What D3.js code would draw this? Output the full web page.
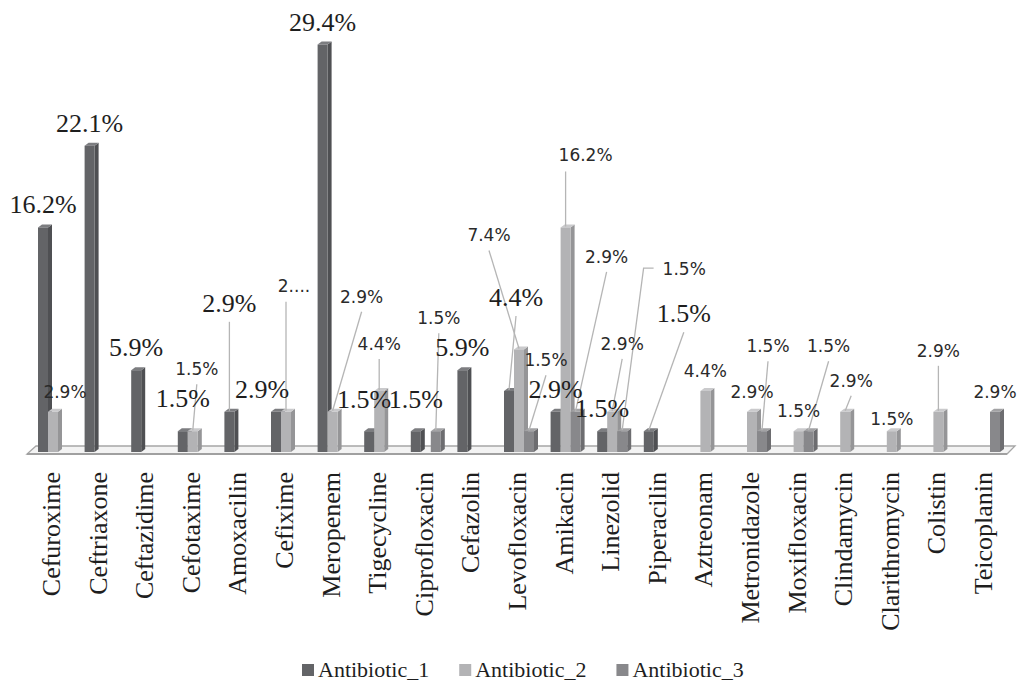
<!DOCTYPE html>
<html>
<head>
<meta charset="utf-8">
<script src="https://cdn.jsdelivr.net/npm/d3@7"></script>
<style>
  body { margin: 0; background: #fff; }
  svg { display: block; }
</style>
</head>
<body>
<div id="chart"></div>
<script>
var width = 1018;
var height = 681;

var categories = ["Cefuroxime", "Ceftriaxone", "Ceftazidime", "Cefotaxime", "Amoxacilin",
  "Cefixime", "Meropenem", "Tigecycline", "Ciprofloxacin", "Cefazolin", "Levofloxacin",
  "Amikacin", "Linezolid", "Piperacilin", "Aztreonam", "Metronidazole", "Moxifloxacin",
  "Clindamycin", "Clarithromycin", "Colistin", "Teicoplanin"];

var seriesNames = ["Antibiotic_1", "Antibiotic_2", "Antibiotic_3"];

var antibiotic1 = [16.2, 22.1, 5.9, 1.5, 2.9, 2.9, 29.4, 1.5, 1.5, 5.9, 4.4,
  2.9, 1.5, 1.5, null, null, null, null, null, null, null];
var antibiotic2 = [2.9, null, null, 1.5, null, 2.9, 2.9, 4.4, null, null, 7.4,
  16.2, 2.9, null, 4.4, 2.9, 1.5, 2.9, 1.5, 2.9, null];
var antibiotic3 = [null, null, null, null, null, null, null, null, 1.5, null, 1.5,
  2.9, 1.5, null, null, 1.5, 1.5, null, null, null, 2.9];

// labels that were dragged away from the bar in the original (pixels, baseline relative to bar top)
var labelMoves = [
  {cat: "Cefotaxime", s: 0, dx: 0, dy: -24},
  {cat: "Amoxacilin", s: 0, dx: 0, dy: -100, leader: "below"},
  {cat: "Cefixime", s: 0, dx: -14, dy: -14},
  {cat: "Tigecycline", s: 0, dx: -5, dy: -23},
  {cat: "Ciprofloxacin", s: 0, dx: 0, dy: -23},
  {cat: "Levofloxacin", s: 0, dx: 7, dy: -85, leader: "below"},
  {cat: "Piperacilin", s: 0, dx: 35, dy: -109, leader: "below"},
  {cat: "Cefuroxime", s: 1, dx: 12, dy: -14},
  {cat: "Cefotaxime", s: 1, dx: 4, dy: -56, leader: "below"},
  {cat: "Cefixime", s: 1, dx: 8, dy: -120, leader: "vertical", text: "2...."},
  {cat: "Meropenem", s: 1, dx: 29, dy: -109, leader: "below"},
  {cat: "Tigecycline", s: 1, dx: 0, dy: -41, leader: "below"},
  {cat: "Ciprofloxacin", s: 2, dx: 3, dy: -107, leader: "below"},
  {cat: "Levofloxacin", s: 1, dx: -30, dy: -108, leader: "below"},
  {cat: "Levofloxacin", s: 2, dx: 17, dy: -65, leader: "below"},
  {cat: "Amikacin", s: 1, dx: 20, dy: -66, leader: "vertical"},
  {cat: "Amikacin", s: 2, dx: 31, dy: -149, leader: "below"},
  {cat: "Linezolid", s: 1, dx: 10, dy: -62, leader: "below"},
  {cat: "Linezolid", s: 2, dx: 62, dy: -156, leader: "left"},
  {cat: "Metronidazole", s: 2, dx: 6, dy: -79, leader: "below"},
  {cat: "Moxifloxacin", s: 2, dx: 20, dy: -79, leader: "below"},
  {cat: "Clindamycin", s: 1, dx: 6, dy: -25, leader: "below"},
  {cat: "Clarithromycin", s: 1, dx: 0, dy: -6},
  {cat: "Colistin", s: 1, dx: 0, dy: -55, leader: "below"}
];

var serifFont = "Liberation Serif";
var sansFont = "DejaVu Sans";

var frontCol = ["#636467", "#b3b3b5", "#88888b"];
var sideCol = ["#4f5053", "#959597", "#6d6d70"];
var topCol = ["#7c7d80", "#cacacc", "#a2a2a4"];
var depthX = 4, depthY = 3;

var seriesValues = [antibiotic1, antibiotic2, antibiotic3];
var bars = [];
categories.forEach(function (c, i) {
  seriesValues.forEach(function (vals, s) {
    if (vals[i] != null) bars.push({cat: c, s: s, value: vals[i]});
  });
});

var x0 = d3.scaleBand().domain(categories).range([27.7, 1006.3]);
var x1 = d3.scaleBand().domain(d3.range(3))
  .range([x0.bandwidth() / 2 - 13, x0.bandwidth() / 2 + 17]);
var y = d3.scaleLinear().domain([0, 30]).range([452, 36.2]);

var svg = d3.select("#chart").append("svg")
  .attr("width", width).attr("height", height)
  .attr("viewBox", [0, 0, width, height]);

// floor plate
var base = y(0);
svg.append("polygon")
  .attr("points", [[27, base + 2], [1007, base + 2], [1015, base - 6], [36, base - 6]].join(" "))
  .attr("fill", "#f3f3f3")
  .attr("stroke", "#a6a6a6")
  .attr("stroke-width", 1.3);
svg.append("line")
  .attr("x1", 27).attr("x2", 1007)
  .attr("y1", base + 2).attr("y2", base + 2)
  .attr("stroke", "#a0a0a0").attr("stroke-width", 2.2);

// bars drawn as fake 3D columns
var gBars = svg.append("g");
bars.forEach(function (d) {
  var bx = x0(d.cat) + x1(d.s);
  var bw = x1.bandwidth();
  var top = y(d.value);
  var g = gBars.append("g");
  g.append("polygon")
    .attr("points", [[bx + bw, top], [bx + bw + depthX, top - depthY],
      [bx + bw + depthX, base - depthY], [bx + bw, base]].join(" "))
    .attr("fill", sideCol[d.s]);
  g.append("polygon")
    .attr("points", [[bx, top], [bx + depthX, top - depthY],
      [bx + bw + depthX, top - depthY], [bx + bw, top]].join(" "))
    .attr("fill", topCol[d.s]);
  g.append("rect")
    .attr("x", bx).attr("y", top)
    .attr("width", bw).attr("height", base - top)
    .attr("fill", frontCol[d.s]);
});

var gLeaders = svg.append("g")
  .attr("stroke", "#b5b5b5")
  .attr("stroke-width", 1.3)
  .attr("fill", "none");
var gLabels = svg.append("g");

bars.forEach(function (d) {
  var mv = labelMoves.find(function (m) { return m.cat == d.cat && m.s == d.s; }) || {dx: 0, dy: -14};
  var cx = x0(d.cat) + x1(d.s) + x1.bandwidth() / 2;
  var top = y(d.value);
  var lx = cx + mv.dx;
  var ly = top + mv.dy;
  var serif = d.s == 0;
  var t = gLabels.append("text")
    .attr("x", lx).attr("y", ly)
    .attr("text-anchor", "middle")
    .style("font-family", serif ? serifFont : sansFont)
    .style("font-size", (serif ? 26 : 17) + "px")
    .style("fill", serif ? "#1e1e1e" : "#2a2a2a")
    .text(mv.text || d.value.toFixed(1) + "%");

  if (mv.leader == "below") {
    gLeaders.append("line")
      .attr("x1", lx).attr("y1", ly + (serif ? 10 : 9))
      .attr("x2", cx).attr("y2", top - 1);
  } else if (mv.leader == "vertical") {
    gLeaders.append("line")
      .attr("x1", cx).attr("y1", ly + 10)
      .attr("x2", cx).attr("y2", top - 1);
  } else if (mv.leader == "left") {
    var left = lx - t.node().getComputedTextLength() / 2;
    gLeaders.append("polyline")
      .attr("points", [[left - 9, ly - 7], [left - 19, ly - 7], [cx, top - 1]].join(" "));
  }
});

// category labels, rotated
svg.append("g").selectAll("text")
  .data(categories)
  .join("text")
    .attr("transform", function (d) { return "translate(" + (x0(d) + x0.bandwidth() / 2 + 9) + ",472) rotate(-90)"; })
    .attr("text-anchor", "end")
    .style("font-family", serifFont)
    .style("font-size", "26px")
    .style("fill", "#1e1e1e")
    .text(function (d) { return d; });

// legend
var legend = svg.append("g");
var lxPos = 302;
seriesNames.forEach(function (name, i) {
  legend.append("rect")
    .attr("x", lxPos).attr("y", 664)
    .attr("width", 12).attr("height", 12)
    .attr("fill", frontCol[i]);
  var t = legend.append("text")
    .attr("x", lxPos + 16).attr("y", 677)
    .style("font-family", serifFont)
    .style("font-size", "22px")
    .style("fill", "#1e1e1e")
    .text(name);
  lxPos += 16 + t.node().getComputedTextLength() + 30;
});
</script>
</body>
</html>
